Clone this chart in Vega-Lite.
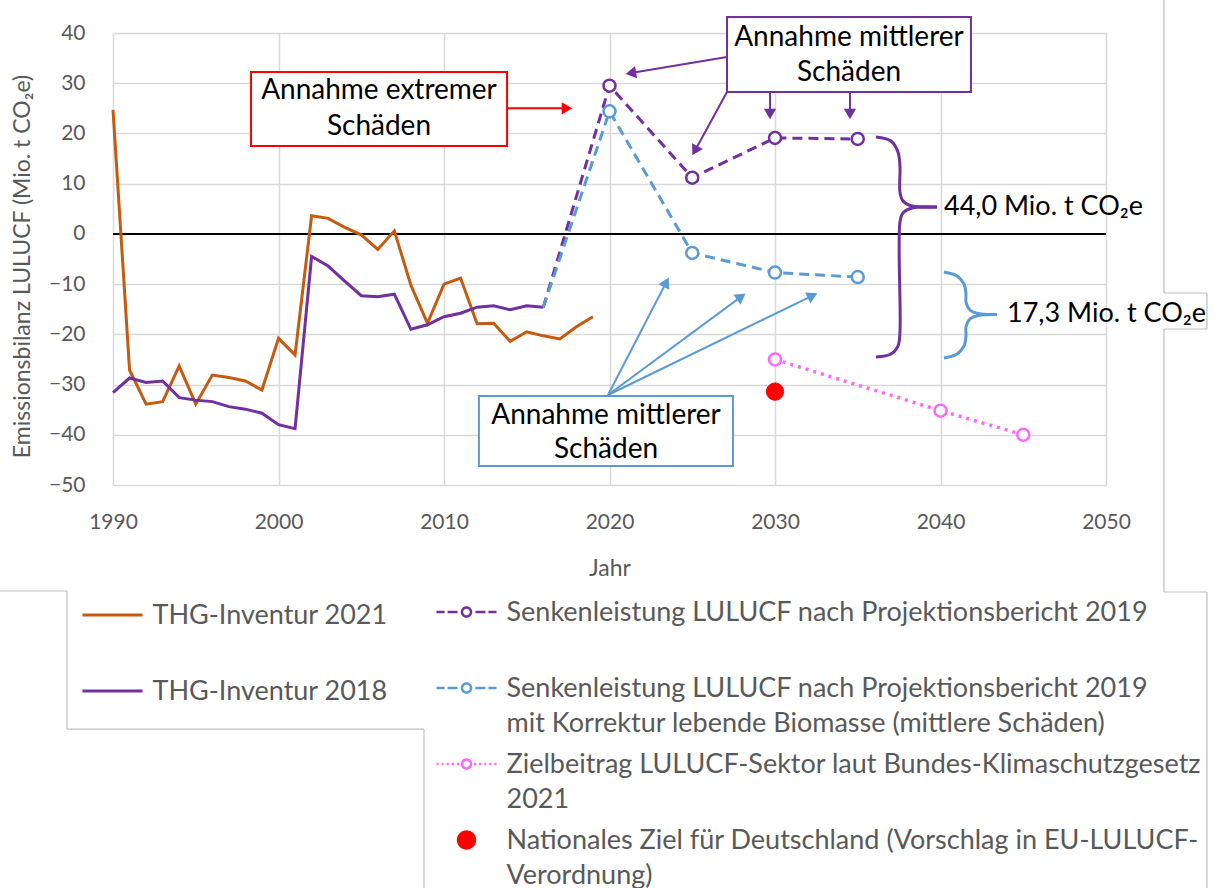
{
  "$schema": "https://vega.github.io/schema/vega-lite/v6.json",
  "width": 993,
  "height": 452,
  "autosize": {"type": "none"},
  "padding": {"left": 113, "top": 33, "right": 109, "bottom": 403},
  "background": "white",
  "config": {
    "view": {"stroke": null},
    "font": "Lato",
    "axis": {"grid": true, "gridColor": "#D9D9D9", "gridWidth": 1.5, "domain": false, "ticks": false, "labelFont": "Lato", "labelFontSize": 21, "labelColor": "#595959", "titleFont": "Lato", "titleFontSize": 23, "titleColor": "#595959", "titleFontWeight": "normal"},
    "legend": {"labelFont": "Lato", "labelFontSize": 27, "labelColor": "#595959", "labelLimit": 900, "padding": 0, "rowPadding": 0}
  },
  "encoding": {
    "x": {"field": "year", "type": "quantitative", "scale": {"domain": [1990, 2050], "nice": false, "zero": false},
          "axis": {"values": [1990, 2000, 2010, 2020, 2030, 2040, 2050], "format": "d", "labelFlush": false, "labelPadding": 26, "title": "Jahr", "titleX": 496.5, "titleY": 83, "titleBaseline": "middle", "titleAlign": "center"}},
    "y": {"field": "value", "type": "quantitative", "scale": {"domain": [-50, 40], "nice": false, "zero": false},
          "axis": {"values": [-50, -40, -30, -20, -10, 0, 10, 20, 30, 40], "format": "d", "labelFlush": false, "labelPadding": 28, "title": "Emissionsbilanz LULUCF (Mio. t CO₂e)", "titleX": -91, "titleY": 233, "titleAngle": 270, "titleBaseline": "middle", "titleAlign": "center"}}
  },
  "datasets": {
    "zero": [
      {"year": 1990, "value": 0},
      {"year": 2050, "value": 0}
    ],
    "frame": [
      {"year": 2053.5, "value": 46.57, "year2": 2053.5, "value2": -11.77},
      {"year": 2053.5, "value": -11.77, "year2": 2056.1, "value2": -11.77},
      {"year": 2056.1, "value": -11.77, "year2": 2056.1, "value2": -18.94},
      {"year": 2056.1, "value": -18.94, "year2": 2053.5, "value2": -18.94},
      {"year": 2053.5, "value": -18.94, "year2": 2053.5, "value2": -71.31},
      {"year": 2053.5, "value": -71.31, "year2": 2056.1, "value2": -71.31},
      {"year": 2056.1, "value": -71.31, "year2": 2056.1, "value2": -130.25},
      {"year": 1983.17, "value": -71.11, "year2": 1987.22, "value2": -71.11},
      {"year": 1987.22, "value": -71.11, "year2": 1987.22, "value2": -98.59},
      {"year": 1987.22, "value": -98.59, "year2": 2008.79, "value2": -98.59},
      {"year": 2008.79, "value": -98.59, "year2": 2008.79, "value2": -130.25}
    ],
    "inventory": [
      {"year": 1990, "value": 24.7, "series": "THG-Inventur 2021"},
      {"year": 1991, "value": -27.1, "series": "THG-Inventur 2021"},
      {"year": 1992, "value": -33.9, "series": "THG-Inventur 2021"},
      {"year": 1993, "value": -33.4, "series": "THG-Inventur 2021"},
      {"year": 1994, "value": -26.3, "series": "THG-Inventur 2021"},
      {"year": 1995, "value": -33.9, "series": "THG-Inventur 2021"},
      {"year": 1996, "value": -28.1, "series": "THG-Inventur 2021"},
      {"year": 1997, "value": -28.6, "series": "THG-Inventur 2021"},
      {"year": 1998, "value": -29.3, "series": "THG-Inventur 2021"},
      {"year": 1999, "value": -31.1, "series": "THG-Inventur 2021"},
      {"year": 2000, "value": -20.8, "series": "THG-Inventur 2021"},
      {"year": 2001, "value": -24.1, "series": "THG-Inventur 2021"},
      {"year": 2002, "value": 3.6, "series": "THG-Inventur 2021"},
      {"year": 2003, "value": 3.1, "series": "THG-Inventur 2021"},
      {"year": 2004, "value": 1.3, "series": "THG-Inventur 2021"},
      {"year": 2005, "value": -0.2, "series": "THG-Inventur 2021"},
      {"year": 2006, "value": -3.1, "series": "THG-Inventur 2021"},
      {"year": 2007, "value": 0.6, "series": "THG-Inventur 2021"},
      {"year": 2008, "value": -10.2, "series": "THG-Inventur 2021"},
      {"year": 2009, "value": -17.8, "series": "THG-Inventur 2021"},
      {"year": 2010, "value": -10.0, "series": "THG-Inventur 2021"},
      {"year": 2011, "value": -8.8, "series": "THG-Inventur 2021"},
      {"year": 2012, "value": -17.9, "series": "THG-Inventur 2021"},
      {"year": 2013, "value": -17.8, "series": "THG-Inventur 2021"},
      {"year": 2014, "value": -21.4, "series": "THG-Inventur 2021"},
      {"year": 2015, "value": -19.5, "series": "THG-Inventur 2021"},
      {"year": 2016, "value": -20.3, "series": "THG-Inventur 2021"},
      {"year": 2017, "value": -20.9, "series": "THG-Inventur 2021"},
      {"year": 2018, "value": -18.5, "series": "THG-Inventur 2021"},
      {"year": 2019, "value": -16.5, "series": "THG-Inventur 2021"},
      {"year": 1990, "value": -31.6, "series": "THG-Inventur 2018"},
      {"year": 1991, "value": -28.7, "series": "THG-Inventur 2018"},
      {"year": 1992, "value": -29.6, "series": "THG-Inventur 2018"},
      {"year": 1993, "value": -29.3, "series": "THG-Inventur 2018"},
      {"year": 1994, "value": -32.6, "series": "THG-Inventur 2018"},
      {"year": 1995, "value": -33.1, "series": "THG-Inventur 2018"},
      {"year": 1996, "value": -33.4, "series": "THG-Inventur 2018"},
      {"year": 1997, "value": -34.4, "series": "THG-Inventur 2018"},
      {"year": 1998, "value": -34.9, "series": "THG-Inventur 2018"},
      {"year": 1999, "value": -35.7, "series": "THG-Inventur 2018"},
      {"year": 2000, "value": -38.0, "series": "THG-Inventur 2018"},
      {"year": 2001, "value": -38.8, "series": "THG-Inventur 2018"},
      {"year": 2002, "value": -4.5, "series": "THG-Inventur 2018"},
      {"year": 2003, "value": -6.4, "series": "THG-Inventur 2018"},
      {"year": 2004, "value": -9.4, "series": "THG-Inventur 2018"},
      {"year": 2005, "value": -12.3, "series": "THG-Inventur 2018"},
      {"year": 2006, "value": -12.5, "series": "THG-Inventur 2018"},
      {"year": 2007, "value": -12.0, "series": "THG-Inventur 2018"},
      {"year": 2008, "value": -19.0, "series": "THG-Inventur 2018"},
      {"year": 2009, "value": -18.1, "series": "THG-Inventur 2018"},
      {"year": 2010, "value": -16.5, "series": "THG-Inventur 2018"},
      {"year": 2011, "value": -15.8, "series": "THG-Inventur 2018"},
      {"year": 2012, "value": -14.6, "series": "THG-Inventur 2018"},
      {"year": 2013, "value": -14.3, "series": "THG-Inventur 2018"},
      {"year": 2014, "value": -15.1, "series": "THG-Inventur 2018"},
      {"year": 2015, "value": -14.3, "series": "THG-Inventur 2018"},
      {"year": 2016, "value": -14.6, "series": "THG-Inventur 2018"}
    ],
    "projection": [
      {"year": 2016, "value": -14.6, "series": "Senkenleistung LULUCF nach Projektionsbericht 2019"},
      {"year": 2020, "value": 29.5, "series": "Senkenleistung LULUCF nach Projektionsbericht 2019"},
      {"year": 2025, "value": 11.2, "series": "Senkenleistung LULUCF nach Projektionsbericht 2019"},
      {"year": 2030, "value": 19.1, "series": "Senkenleistung LULUCF nach Projektionsbericht 2019"},
      {"year": 2035, "value": 18.9, "series": "Senkenleistung LULUCF nach Projektionsbericht 2019"},
      {"year": 2016, "value": -14.6, "series": "Senkenleistung LULUCF nach Projektionsbericht 2019 mit Korrektur lebende Biomasse (mittlere Schäden)"},
      {"year": 2020, "value": 24.4, "series": "Senkenleistung LULUCF nach Projektionsbericht 2019 mit Korrektur lebende Biomasse (mittlere Schäden)"},
      {"year": 2025, "value": -3.8, "series": "Senkenleistung LULUCF nach Projektionsbericht 2019 mit Korrektur lebende Biomasse (mittlere Schäden)"},
      {"year": 2030, "value": -7.7, "series": "Senkenleistung LULUCF nach Projektionsbericht 2019 mit Korrektur lebende Biomasse (mittlere Schäden)"},
      {"year": 2035, "value": -8.6, "series": "Senkenleistung LULUCF nach Projektionsbericht 2019 mit Korrektur lebende Biomasse (mittlere Schäden)"},
      {"year": 2030, "value": -25.0, "series": "Zielbeitrag LULUCF-Sektor laut Bundes-Klimaschutzgesetz 2021"},
      {"year": 2040, "value": -35.2, "series": "Zielbeitrag LULUCF-Sektor laut Bundes-Klimaschutzgesetz 2021"},
      {"year": 2045, "value": -40.0, "series": "Zielbeitrag LULUCF-Sektor laut Bundes-Klimaschutzgesetz 2021"},
      {"year": 2030, "value": -31.4, "series": "Nationales Ziel für Deutschland (Vorschlag in EU-LULUCF-Verordnung)"}
    ],
    "boxes": [
      {"group": "mid_top", "year": 2027.1, "year2": 2041.84, "value": 43.19, "value2": 28.25},
      {"group": "extreme", "year": 1998.34, "year2": 2013.81, "value": 32.23, "value2": 17.5},
      {"group": "mid_bottom", "year": 2012.11, "year2": 2027.46, "value": -32.28, "value2": -46.22}
    ],
    "boxText": [
      {"group": "mid_top", "year": 2034.47, "value": 39.0, "text": "Annahme mittlerer"},
      {"group": "mid_top", "year": 2034.47, "value": 32.0, "text": "Schäden"},
      {"group": "extreme", "year": 2006.07, "value": 28.45, "text": "Annahme extremer"},
      {"group": "extreme", "year": 2006.07, "value": 21.3, "text": "Schäden"},
      {"group": "mid_bottom", "year": 2019.79, "value": -36.26, "text": "Annahme mittlerer"},
      {"group": "mid_bottom", "year": 2019.79, "value": -43.03, "text": "Schäden"}
    ],
    "arrows": [
      {"group": "mid_top", "year": 2027.1, "value": 35.22, "year2": 2021.29, "value2": 32.03},
      {"group": "mid_top", "year": 2027.1, "value": 28.25, "year2": 2025.16, "value2": 16.56},
      {"group": "mid_top", "year": 2029.7, "value": 28.25, "year2": 2029.7, "value2": 23.87},
      {"group": "mid_top", "year": 2034.53, "value": 28.25, "year2": 2034.53, "value2": 23.87},
      {"group": "extreme", "year": 2013.81, "value": 25.0, "year2": 2017.43, "value2": 25.0},
      {"group": "mid_bottom", "year": 2019.91, "value": -32.08, "year2": 2023.43, "value2": -9.64},
      {"group": "mid_bottom", "year": 2019.91, "value": -32.08, "year2": 2027.96, "value2": -12.49},
      {"group": "mid_bottom", "year": 2019.91, "value": -32.08, "year2": 2032.27, "value2": -12.29}
    ],
    "heads": [
      {"group": "mid_top", "year": 2021.29, "value": 32.03, "angle": 260.5},
      {"group": "mid_top", "year": 2025.16, "value": 16.56, "angle": 208.7},
      {"group": "mid_top", "year": 2029.7, "value": 23.87, "angle": 180},
      {"group": "mid_top", "year": 2034.53, "value": 23.87, "angle": 180},
      {"group": "extreme", "year": 2017.43, "value": 25.0, "angle": 90},
      {"group": "mid_bottom", "year": 2023.43, "value": -9.64, "angle": 27.3},
      {"group": "mid_bottom", "year": 2027.96, "value": -12.49, "angle": 53.5},
      {"group": "mid_bottom", "year": 2032.27, "value": -12.29, "angle": 64.1}
    ],
    "braces": [
      {"group": "brace_purple", "part": "a", "i": 0, "year": 2036.10, "value": 19.29},
      {"group": "brace_purple", "part": "a", "i": 1, "year": 2037.01, "value": 18.49},
      {"group": "brace_purple", "part": "a", "i": 2, "year": 2037.43, "value": 16.30},
      {"group": "brace_purple", "part": "a", "i": 3, "year": 2037.55, "value": 13.52},
      {"group": "brace_purple", "part": "a", "i": 4, "year": 2037.55, "value": 8.34},
      {"group": "brace_purple", "part": "a", "i": 5, "year": 2037.73, "value": 6.55},
      {"group": "brace_purple", "part": "a", "i": 6, "year": 2038.28, "value": 5.55},
      {"group": "brace_purple", "part": "a", "i": 7, "year": 2039.79, "value": 5.35},
      {"group": "brace_purple", "part": "b", "i": 0, "year": 2039.79, "value": 5.35},
      {"group": "brace_purple", "part": "b", "i": 1, "year": 2038.28, "value": 5.15},
      {"group": "brace_purple", "part": "b", "i": 2, "year": 2037.73, "value": 4.16},
      {"group": "brace_purple", "part": "b", "i": 3, "year": 2037.55, "value": 2.37},
      {"group": "brace_purple", "part": "b", "i": 4, "year": 2037.55, "value": -19.54},
      {"group": "brace_purple", "part": "b", "i": 5, "year": 2037.43, "value": -22.33},
      {"group": "brace_purple", "part": "b", "i": 6, "year": 2037.01, "value": -23.92},
      {"group": "brace_purple", "part": "b", "i": 7, "year": 2036.10, "value": -24.52},
      {"group": "brace_blue", "part": "a", "i": 0, "year": 2040.21, "value": -7.59},
      {"group": "brace_blue", "part": "a", "i": 1, "year": 2041.0, "value": -8.39},
      {"group": "brace_blue", "part": "a", "i": 2, "year": 2041.42, "value": -9.98},
      {"group": "brace_blue", "part": "a", "i": 3, "year": 2041.54, "value": -11.97},
      {"group": "brace_blue", "part": "a", "i": 4, "year": 2041.54, "value": -13.56},
      {"group": "brace_blue", "part": "a", "i": 5, "year": 2041.78, "value": -15.16},
      {"group": "brace_blue", "part": "a", "i": 6, "year": 2042.27, "value": -15.86},
      {"group": "brace_blue", "part": "a", "i": 7, "year": 2043.41, "value": -16.05},
      {"group": "brace_blue", "part": "b", "i": 0, "year": 2043.41, "value": -16.05},
      {"group": "brace_blue", "part": "b", "i": 1, "year": 2042.27, "value": -16.25},
      {"group": "brace_blue", "part": "b", "i": 2, "year": 2041.78, "value": -16.95},
      {"group": "brace_blue", "part": "b", "i": 3, "year": 2041.54, "value": -18.54},
      {"group": "brace_blue", "part": "b", "i": 4, "year": 2041.54, "value": -20.33},
      {"group": "brace_blue", "part": "b", "i": 5, "year": 2041.42, "value": -22.33},
      {"group": "brace_blue", "part": "b", "i": 6, "year": 2041.0, "value": -23.92},
      {"group": "brace_blue", "part": "b", "i": 7, "year": 2040.21, "value": -24.72}
    ],
    "braceText": [
      {"group": "brace_purple", "year": 2040.21, "value": 5.35, "text": "44,0 Mio. t CO₂e"},
      {"group": "brace_blue", "year": 2044.02, "value": -15.96, "text": "17,3 Mio. t CO₂e"}
    ]
  },
  "layer": [
    {
      "data": {"name": "frame"},
      "mark": {"type": "rule", "color": "#BFBFBF", "strokeWidth": 1.2},
      "encoding": {
        "x2": {"field": "year2"},
        "y2": {"field": "value2"}
      }
    },
    {
      "data": {"name": "zero"},
      "mark": {"type": "line", "color": "black", "strokeWidth": 2}
    },
    {
      "data": {"name": "inventory"},
      "mark": {"type": "line", "strokeWidth": 3},
      "encoding": {
        "color": {"field": "series", "type": "nominal",
                  "scale": {"domain": ["THG-Inventur 2021", "THG-Inventur 2018"], "range": ["#C55A11", "#7030A0"]},
                  "legend": {"orient": "none", "legendX": -32, "legendY": 571, "title": null, "symbolType": "stroke", "symbolSize": 3600, "symbolStrokeWidth": 3, "clipHeight": 74, "rowPadding": 0, "labelOffset": 8.5, "labelBaseline": "alphabetic",
                             "encode": {"symbols": {"update": {"y": {"value": 11}}}, "labels": {"update": {"y": {"value": 20}}}}}}
      }
    },
    {
      "data": {"name": "projection"},
      "encoding": {
        "color": {"field": "series", "type": "nominal",
                  "scale": {"domain": ["Senkenleistung LULUCF nach Projektionsbericht 2019", "Senkenleistung LULUCF nach Projektionsbericht 2019 mit Korrektur lebende Biomasse (mittlere Schäden)", "Zielbeitrag LULUCF-Sektor laut Bundes-Klimaschutzgesetz 2021", "Nationales Ziel für Deutschland (Vorschlag in EU-LULUCF-Verordnung)"],
                            "range": ["#7030A0", "#5B9BD5", "#FF66FF", "#FF0000"]},
                  "legend": {"orient": "none", "legendX": 322, "legendY": 568, "title": null, "symbolType": "circle", "symbolSize": 3600, "symbolStrokeWidth": 2.5, "symbolFillColor": "white", "clipHeight": 74, "rowPadding": 0, "labelOffset": 8.5, "labelBaseline": "alphabetic",
                             "labelExpr": "indexof(datum.label,'mit Korrektur')>0 ? ['Senkenleistung LULUCF nach Projektionsbericht 2019','mit Korrektur lebende Biomasse (mittlere Schäden)'] : indexof(datum.label,'Zielbeitrag')==0 ? ['Zielbeitrag LULUCF-Sektor laut Bundes-Klimaschutzgesetz','2021'] : indexof(datum.label,'Nationales')==0 ? ['Nationales Ziel für Deutschland (Vorschlag in EU-LULUCF-','Verordnung)'] : datum.label",
                             "encode": {
                               "symbols": {"update": {
                                 "y": {"value": 11},
                                 "shape": {"signal": "indexof(datum.value,'Nationales')==0 ? 'M-0.04,0A0.04,0.04 0 1,0 0.04,0A0.04,0.04 0 1,0 -0.04,0ZM-0.09,0A0.09,0.09 0 1,0 0.09,0A0.09,0.09 0 1,0 -0.09,0ZM-0.14,0A0.14,0.14 0 1,0 0.14,0A0.14,0.14 0 1,0 -0.14,0ZM-0.19,0A0.19,0.19 0 1,0 0.19,0A0.19,0.19 0 1,0 -0.19,0ZM-0.24,0A0.24,0.24 0 1,0 0.24,0A0.24,0.24 0 1,0 -0.24,0ZM-0.28,0A0.28,0.28 0 1,0 0.28,0A0.28,0.28 0 1,0 -0.28,0Z' : indexof(datum.value,'Zielbeitrag')==0 ? 'M-1,0H-0.93M-0.83,0H-0.76M-0.66,0H-0.59M-0.49,0H-0.42M-0.32,0H-0.25M0.25,0H0.32M0.42,0H0.49M0.59,0H0.66M0.76,0H0.83M0.93,0H1M-0.15,0A0.15,0.15 0 1,0 0.15,0A0.15,0.15 0 1,0 -0.15,0Z' : 'M-1,0H-0.73M-0.63,0H-0.3M0.3,0H0.63M0.73,0H1M-0.15,0A0.15,0.15 0 1,0 0.15,0A0.15,0.15 0 1,0 -0.15,0Z'"},
                                 "fill": {"signal": "indexof(datum.value,'Nationales')==0 ? '#FF0000' : 'white'"},
                                 "fillOpacity": {"value": 1},
                                 "opacity": {"value": 1},
                                 "strokeDash": {"value": [1, 0]}
                               }},
                               "labels": {"update": {"y": {"value": 20}, "lineHeight": {"value": 35}}}
                             }}}
      },
      "layer": [
        {
          "transform": [{"filter": {"field": "series", "oneOf": ["Senkenleistung LULUCF nach Projektionsbericht 2019", "Senkenleistung LULUCF nach Projektionsbericht 2019 mit Korrektur lebende Biomasse (mittlere Schäden)"]}}],
          "mark": {"type": "line", "strokeWidth": 3, "strokeDash": [10, 6]}
        },
        {
          "transform": [{"filter": {"field": "series", "equal": "Zielbeitrag LULUCF-Sektor laut Bundes-Klimaschutzgesetz 2021"}}],
          "mark": {"type": "line", "strokeWidth": 3.5, "strokeDash": [3, 5]}
        },
        {
          "transform": [{"filter": "datum.year >= 2020"}, {"filter": {"field": "series", "oneOf": ["Senkenleistung LULUCF nach Projektionsbericht 2019", "Senkenleistung LULUCF nach Projektionsbericht 2019 mit Korrektur lebende Biomasse (mittlere Schäden)", "Zielbeitrag LULUCF-Sektor laut Bundes-Klimaschutzgesetz 2021"]}}],
          "mark": {"type": "point", "shape": "circle", "filled": false, "fill": "white", "size": 144, "strokeWidth": 2.5, "opacity": 1}
        },
        {
          "transform": [{"filter": {"field": "series", "equal": "Nationales Ziel für Deutschland (Vorschlag in EU-LULUCF-Verordnung)"}}],
          "mark": {"type": "point", "shape": "circle", "filled": false, "fill": "#FF0000", "size": 300, "strokeWidth": 1, "opacity": 1}
        }
      ]
    },
    {
      "data": {"name": "braces"},
      "mark": {"type": "line", "strokeWidth": 3, "interpolate": "catmull-rom"},
      "encoding": {
        "order": {"field": "i", "type": "quantitative"},
        "detail": {"field": "part", "type": "nominal"},
        "stroke": {"field": "group", "type": "nominal", "scale": {"domain": ["mid_top", "extreme", "mid_bottom", "brace_purple", "brace_blue"], "range": ["#7030A0", "#FF0000", "#5B9BD5", "#7030A0", "#5B9BD5"]}, "legend": null}
      }
    },
    {
      "data": {"name": "arrows"},
      "mark": {"type": "rule", "strokeWidth": 2},
      "encoding": {
        "x2": {"field": "year2"},
        "y2": {"field": "value2"},
        "stroke": {"field": "group", "type": "nominal", "scale": {"domain": ["mid_top", "extreme", "mid_bottom", "brace_purple", "brace_blue"], "range": ["#7030A0", "#FF0000", "#5B9BD5", "#7030A0", "#5B9BD5"]}, "legend": null}
      }
    },
    {
      "data": {"name": "heads"},
      "mark": {"type": "point", "shape": "triangle-up", "filled": true, "size": 150, "opacity": 1, "strokeWidth": 0},
      "encoding": {
        "angle": {"field": "angle", "type": "quantitative", "scale": null},
        "fill": {"field": "group", "type": "nominal", "scale": {"domain": ["mid_top", "extreme", "mid_bottom", "brace_purple", "brace_blue"], "range": ["#7030A0", "#FF0000", "#5B9BD5", "#7030A0", "#5B9BD5"]}, "legend": null}
      }
    },
    {
      "data": {"name": "boxes"},
      "mark": {"type": "rect", "fill": "white", "strokeWidth": 2},
      "encoding": {
        "x2": {"field": "year2"},
        "y2": {"field": "value2"},
        "stroke": {"field": "group", "type": "nominal", "scale": {"domain": ["mid_top", "extreme", "mid_bottom", "brace_purple", "brace_blue"], "range": ["#7030A0", "#FF0000", "#5B9BD5", "#7030A0", "#5B9BD5"]}, "legend": null}
      }
    },
    {
      "data": {"name": "boxText"},
      "mark": {"type": "text", "font": "Lato", "fontSize": 28, "color": "#000000", "align": "center", "baseline": "middle"},
      "encoding": {
        "text": {"field": "text"}
      }
    },
    {
      "data": {"name": "braceText"},
      "mark": {"type": "text", "font": "Lato", "fontSize": 27, "color": "#000000", "align": "left", "baseline": "middle"},
      "encoding": {
        "text": {"field": "text"}
      }
    }
  ],
  "resolve": {"scale": {"color": "independent"}}
}
